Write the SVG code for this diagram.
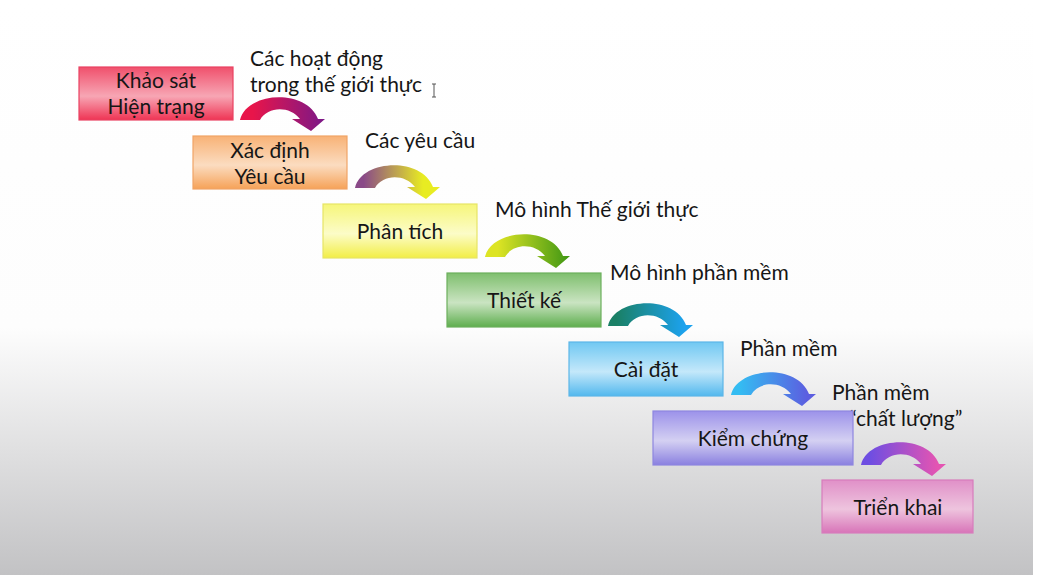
<svg xmlns="http://www.w3.org/2000/svg" width="1061" height="575" viewBox="0 0 1061 575">
<defs>
<linearGradient id="bg" x1="0" y1="0" x2="0" y2="1">
<stop offset="0" stop-color="#ffffff"/>
<stop offset="0.57" stop-color="#fdfdfd"/>
<stop offset="1" stop-color="#c2c2c4"/>
</linearGradient>
<linearGradient id="g1" x1="0" y1="0" x2="0" y2="1"><stop offset="0" stop-color="#f0506c"/><stop offset="0.55" stop-color="#f7a6b4"/><stop offset="1" stop-color="#ef3454"/></linearGradient>
<linearGradient id="g2" x1="0" y1="0" x2="0" y2="1"><stop offset="0" stop-color="#f8b276"/><stop offset="0.55" stop-color="#fbdcc0"/><stop offset="1" stop-color="#f6a258"/></linearGradient>
<linearGradient id="g3" x1="0" y1="0" x2="0" y2="1"><stop offset="0" stop-color="#f6f67a"/><stop offset="0.55" stop-color="#fcfcc8"/><stop offset="1" stop-color="#f2ee46"/></linearGradient>
<linearGradient id="g4" x1="0" y1="0" x2="0" y2="1"><stop offset="0" stop-color="#7fbf6e"/><stop offset="0.55" stop-color="#cae4c2"/><stop offset="1" stop-color="#5eae4e"/></linearGradient>
<linearGradient id="g5" x1="0" y1="0" x2="0" y2="1"><stop offset="0" stop-color="#70c8f2"/><stop offset="0.55" stop-color="#c4e8fa"/><stop offset="1" stop-color="#52b8ee"/></linearGradient>
<linearGradient id="g6" x1="0" y1="0" x2="0" y2="1"><stop offset="0" stop-color="#9c92ea"/><stop offset="0.55" stop-color="#d4d0f2"/><stop offset="1" stop-color="#8a80e0"/></linearGradient>
<linearGradient id="g7" x1="0" y1="0" x2="0" y2="1"><stop offset="0" stop-color="#e090c8"/><stop offset="0.55" stop-color="#eec4de"/><stop offset="1" stop-color="#d874b8"/></linearGradient>
<linearGradient id="a1" x1="0" y1="0" x2="1" y2="0"><stop offset="0.15" stop-color="#e8154a"/><stop offset="1" stop-color="#7a1888"/></linearGradient>
<linearGradient id="a2" x1="0" y1="0" x2="1" y2="0"><stop offset="0.1" stop-color="#8a4a88"/><stop offset="0.8" stop-color="#e8ec22"/></linearGradient>
<linearGradient id="a3" x1="0" y1="0" x2="1" y2="0"><stop offset="0.15" stop-color="#dde424"/><stop offset="1" stop-color="#3e9614"/></linearGradient>
<linearGradient id="a4" x1="0" y1="0" x2="1" y2="0"><stop offset="0.1" stop-color="#1a8066"/><stop offset="0.9" stop-color="#1ca2ee"/></linearGradient>
<linearGradient id="a5" x1="0" y1="0" x2="1" y2="0"><stop offset="0.1" stop-color="#34bcf2"/><stop offset="0.9" stop-color="#5c5ee0"/></linearGradient>
<linearGradient id="a6" x1="0" y1="0" x2="1" y2="0"><stop offset="0.1" stop-color="#6e4ee2"/><stop offset="0.9" stop-color="#e454b2"/></linearGradient>
<path id="arr" d="M 0 0 C 6 -28, 66 -32, 78 -1 L 85 -1 L 71 11 L 52 -1 L 60 -1 C 50 -14, 28 -14, 20 0 Z"/>
</defs>
<style>
text { font-family: Lato, "Liberation Sans", sans-serif; font-size: 21px; fill: #161616; }
.c { text-anchor: middle; }
.box { stroke-width: 1.2; }
</style>
<rect x="0" y="0" width="1061" height="575" fill="#ffffff"/>
<rect x="0" y="0" width="1033" height="575" fill="url(#bg)"/>

<g id="connectors">
<use href="#arr" x="240" y="120" fill="url(#a1)"/>
<use href="#arr" x="355" y="188" fill="url(#a2)"/>
<use href="#arr" x="485" y="257" fill="url(#a3)"/>
<use href="#arr" x="608" y="326" fill="url(#a4)"/>
<use href="#arr" x="731" y="395" fill="url(#a5)"/>
<use href="#arr" x="861" y="465" fill="url(#a6)"/>
</g>

<g id="labels">
<text x="250" y="66">Các hoạt động</text>
<text x="250" y="92">trong thế giới thực</text>
<text x="365" y="148">Các yêu cầu</text>
<text x="495" y="217">Mô hình Thế giới thực</text>
<text x="610" y="280">Mô hình phần mềm</text>
<text x="740" y="356">Phần mềm</text>
<text x="832" y="400">Phần mềm</text>
<text x="849" y="426">“chất lượng”</text>
</g>

<g id="cursor" stroke="#555" stroke-width="1" fill="none">
<path d="M 432 84 L 436 84 M 434 84 L 434 97 M 432 97 L 436 97"/>
</g>

<g id="n1">
<rect class="box" x="79" y="67" width="154" height="53" fill="url(#g1)" stroke="#ea4262"/>
<text class="c" x="156" y="88">Khảo sát</text>
<text class="c" x="156" y="114">Hiện trạng</text>
</g>
<g id="n2">
<rect class="box" x="193" y="136" width="154" height="53" fill="url(#g2)" stroke="#f0a466"/>
<text class="c" x="270" y="158">Xác định</text>
<text class="c" x="270" y="184">Yêu cầu</text>
</g>
<g id="n3">
<rect class="box" x="323" y="204" width="154" height="54" fill="url(#g3)" stroke="#e6e466"/>
<text class="c" x="400" y="239">Phân tích</text>
</g>
<g id="n4">
<rect class="box" x="447" y="273" width="154" height="54" fill="url(#g4)" stroke="#6cb05c"/>
<text class="c" x="524" y="308">Thiết kế</text>
</g>
<g id="n5">
<rect class="box" x="569" y="342" width="154" height="54" fill="url(#g5)" stroke="#5cb6e8"/>
<text class="c" x="646" y="377">Cài đặt</text>
</g>
<g id="n6">
<rect class="box" x="653" y="411" width="200" height="54" fill="url(#g6)" stroke="#8e86e0"/>
<text class="c" x="753" y="446">Kiểm chứng</text>
</g>
<g id="n7">
<rect class="box" x="822" y="480" width="151" height="53" fill="url(#g7)" stroke="#d87cbc"/>
<text class="c" x="898" y="515">Triển khai</text>
</g>
</svg>
